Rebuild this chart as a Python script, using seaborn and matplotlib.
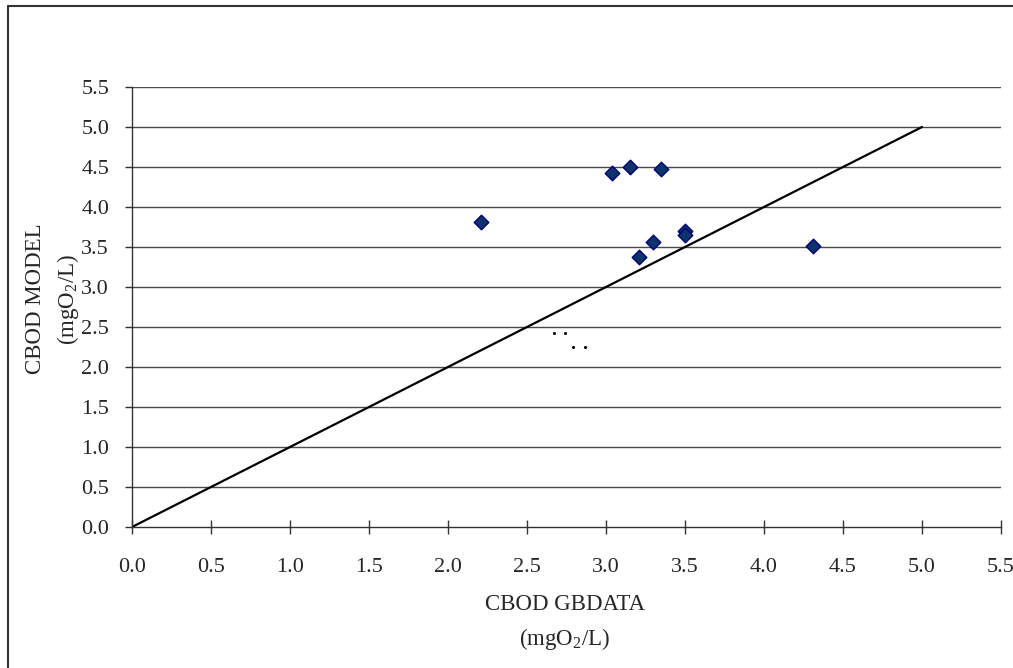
import matplotlib
matplotlib.use("Agg")
import matplotlib.pyplot as plt
import seaborn as sns
import pandas as pd
from matplotlib.lines import Line2D

gbdata = [2.21, 3.04, 3.15, 3.35, 3.50, 3.50, 3.30, 3.21, 4.31]
model = [3.81, 4.43, 4.50, 4.47, 3.70, 3.65, 3.56, 3.38, 3.51]
dots_x = [2.67, 2.74, 2.79, 2.87]
dots_y = [2.42, 2.42, 2.25, 2.25]
line_x = [0.0, 5.0]
line_y = [0.0, 5.0]
ticks = [0.0, 0.5, 1.0, 1.5, 2.0, 2.5, 3.0, 3.5, 4.0, 4.5, 5.0, 5.5]
tick_labels = [f"{t:.1f}" for t in ticks]

sns.set_theme(style="white")
plt.rcParams['font.family'] = ['Liberation Serif', 'DejaVu Serif']
plt.rcParams['mathtext.fontset'] = 'custom'
plt.rcParams['mathtext.rm'] = 'Liberation Serif'
plt.rcParams['mathtext.it'] = 'Liberation Serif'

fig = plt.figure(figsize=(10.13, 6.68), dpi=100)
ax = fig.add_axes([132/1013, 1-527/668, (1001-132)/1013, (527-87)/668])

df = pd.DataFrame({"x": gbdata, "y": model})
for t in ticks[1:]:
    ax.axhline(t, color="#4a4a4a", lw=1.0, zorder=1)
sns.lineplot(x=line_x, y=line_y, ax=ax, color="black", lw=1.6, zorder=2)
sns.scatterplot(data=df, x="x", y="y", ax=ax, marker="D", s=55,
                color="#0b3468", edgecolor="#000080", linewidth=1.0, zorder=3)
sns.scatterplot(x=dots_x, y=dots_y, ax=ax, marker="o", s=5, color="black",
                edgecolor="black", linewidth=0, zorder=3)

ax.set_xlim(0, 5.5)
ax.set_ylim(0, 5.5)
ax.set_xticks(ticks)
ax.set_xticklabels(tick_labels)
ax.set_yticks(ticks)
ax.set_yticklabels(tick_labels)
ax.tick_params(axis="x", direction="inout", length=10, width=1, color="#333333",
               labelsize=16, pad=17, bottom=True)
ax.tick_params(axis="y", direction="out", length=5, width=1, color="#333333",
               labelsize=16, pad=11.5, left=True)
for s in ["top", "right"]:
    ax.spines[s].set_visible(False)
for s in ["left", "bottom"]:
    ax.spines[s].set_color("#333333")
    ax.spines[s].set_linewidth(1.0)
ax.set_xlabel("")
ax.set_ylabel("")

fig.text(565/1013, 1-605/668, "CBOD GBDATA", ha="center", va="center", fontsize=16.5)
fig.text(565/1013, 1-639/668, "(mgO$_2$/L)", ha="center", va="center", fontsize=16.5)
fig.text(35.5/1013, 1-299/668, "CBOD MODEL", ha="center", va="center", fontsize=16.5, rotation=90)
fig.text(68/1013, 1-299/668, "(mgO$_2$/L)", ha="center", va="center", fontsize=16.5, rotation=90)

# outer frame (left and top edges visible)
fig.add_artist(Line2D([8/1013, 8/1013], [0, 1-6/668], transform=fig.transFigure,
                      color="#333333", lw=1.5))
fig.add_artist(Line2D([8/1013, 1], [1-6/668, 1-6/668], transform=fig.transFigure,
                      color="#333333", lw=1.5))

fig.savefig("out.png", dpi=100)
